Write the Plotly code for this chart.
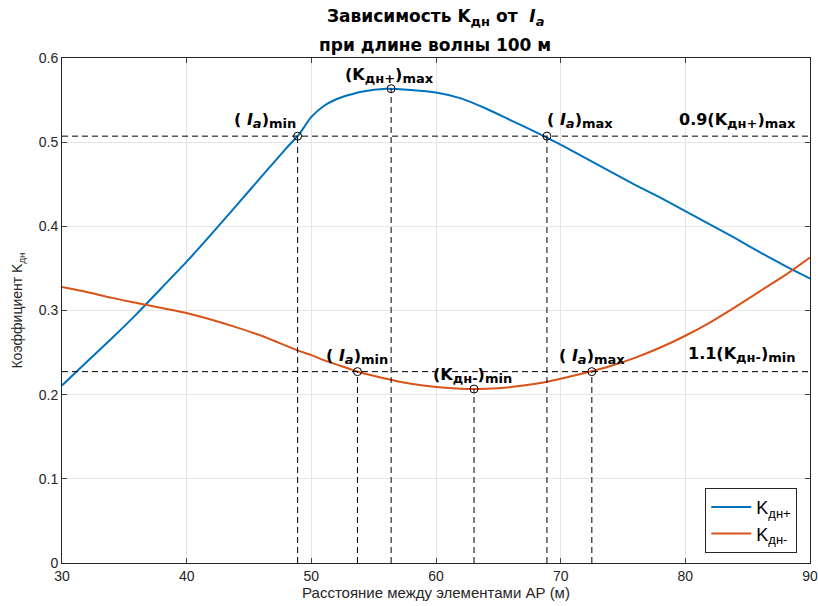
import plotly.graph_objects as go

# ---- data ----
x_vals = [30, 32, 34, 36, 38, 40, 42, 44, 46, 48, 49, 50, 51, 52, 53, 54, 56, 58, 60,
          62, 64, 66, 68, 70, 72, 74, 76, 78, 80, 82, 84, 86, 88, 90]
k_plus = [0.211, 0.239, 0.267, 0.296, 0.327, 0.358, 0.391, 0.425, 0.459, 0.493, 0.509,
          0.530, 0.543, 0.551, 0.556, 0.560, 0.5635, 0.562, 0.559, 0.552, 0.540, 0.526,
          0.512, 0.497, 0.481, 0.465, 0.449, 0.434, 0.418, 0.402, 0.386, 0.369, 0.353, 0.338]
k_minus = [0.328, 0.322, 0.315, 0.309, 0.303, 0.297, 0.289, 0.280, 0.270, 0.258, 0.252,
           0.247, 0.241, 0.236, 0.231, 0.226, 0.219, 0.213, 0.209, 0.207, 0.207, 0.209,
           0.213, 0.219, 0.226, 0.234, 0.244, 0.256, 0.270, 0.286, 0.304, 0.323, 0.342, 0.363]

# characteristic points
plus_max_x, plus_max_y = 56.4, 0.5635
plus_ia_min_x, plus_ia_max_x = 48.9, 68.9
plus_level = 0.9 * plus_max_y
minus_min_x, minus_min_y = 63.05, 0.2067
minus_ia_min_x, minus_ia_max_x = 53.7, 72.5
minus_level = 1.1 * minus_min_y

x_ticks = [30, 40, 50, 60, 70, 80, 90]
y_ticks = [0, 0.1, 0.2, 0.3, 0.4, 0.5, 0.6]


def sub(t):
    return "<sub><span style='font-size:13px'>" + t + "</span></sub>"


title_line1 = "<b>Зависимость K" + sub("дн") + " от  <i>I</i>" + sub("<i>a</i>") + "</b>"
title_line2 = "<b>при длине волны 100 м</b>"

BLUE = "#0072BD"
ORANGE = "#D95319"
AX = "#262626"
FONT = "Liberation Sans, Arial, sans-serif"
BFONT = "DejaVu Sans, Liberation Sans, Arial, sans-serif"

fig = go.Figure()
fig.add_trace(go.Scatter(x=x_vals, y=k_plus, mode="lines", name="K" + sub("дн+"),
                         line=dict(color=BLUE, width=2, shape="spline", smoothing=0.6)))
fig.add_trace(go.Scatter(x=x_vals, y=k_minus, mode="lines", name="K" + sub("дн-"),
                         line=dict(color=ORANGE, width=2, shape="spline", smoothing=0.6)))

# dashed guide lines
dash_line = dict(color="black", width=1, dash="6px,4px")
for lvl in (plus_level, minus_level):
    fig.add_shape(type="line", x0=30, x1=90, y0=lvl, y1=lvl, xref="x", yref="y", line=dash_line)
for vx, vy in [(plus_ia_min_x, plus_level), (plus_max_x, plus_max_y), (plus_ia_max_x, plus_level),
               (minus_ia_min_x, minus_level), (minus_min_x, minus_min_y), (minus_ia_max_x, minus_level)]:
    fig.add_shape(type="line", x0=vx, x1=vx, y0=0, y1=vy, xref="x", yref="y", line=dash_line)

mx = [plus_ia_min_x, plus_max_x, plus_ia_max_x, minus_ia_min_x, minus_min_x, minus_ia_max_x]
my = [plus_level, plus_max_y, plus_level, minus_level, minus_min_y, minus_level]
fig.add_trace(go.Scatter(x=mx, y=my, mode="markers", showlegend=False,
                         marker=dict(symbol="circle-open", size=8, color="black",
                                     line=dict(width=1, color="black"))))

ia_min = "<b>( <i>I</i>" + sub("<i>a</i>") + ")" + sub("min") + "</b>"
ia_max = "<b>( <i>I</i>" + sub("<i>a</i>") + ")" + sub("max") + "</b>"
labels = [
    (plus_ia_min_x, plus_level, ia_min, "right", 0, 3),
    (plus_max_x, plus_max_y, "<b>(K" + sub("дн+") + ")" + sub("max") + "</b>", "center", -2, 1),
    (plus_ia_max_x, plus_level, ia_max, "left", -2, 3),
    (89, plus_level, "<b>0.9(K" + sub("дн+") + ")" + sub("max") + "</b>", "right", 0, 3),
    (minus_ia_min_x, minus_level, ia_min, "center", 0, 3),
    (minus_min_x, minus_min_y, "<b>(K" + sub("дн-") + ")" + sub("min") + "</b>", "center", -2, 1),
    (minus_ia_max_x, minus_level, ia_max, "center", 0, 3),
    (89, minus_level, "<b>1.1(K" + sub("дн-") + ")" + sub("min") + "</b>", "right", 0, 5),
]
for lx, ly, txt, xa, xs, ys in labels:
    fig.add_annotation(x=lx, y=ly, text=txt, showarrow=False, xanchor=xa, yanchor="bottom",
                       xshift=xs, yshift=ys, font=dict(family=BFONT, size=16, color="black"))

# title as two centred lines above the axes
for ty, ttxt in [(1.081, title_line1), (1.026, title_line2)]:
    fig.add_annotation(x=0.4993, y=ty, xref="paper", yref="paper", text=ttxt, showarrow=False,
                       xanchor="center", yanchor="middle",
                       font=dict(family=BFONT, size=17, color="black"))

fig.update_layout(
    width=818, height=606,
    margin=dict(l=62, r=8, t=58, b=43, autoexpand=False),
    paper_bgcolor="white", plot_bgcolor="white",
    font=dict(family=FONT, color=AX, size=13),
    legend=dict(x=0.983, y=0.02, xanchor="right", yanchor="bottom",
                bordercolor=AX, borderwidth=1, bgcolor="white",
                font=dict(family=FONT, size=18, color="black"),
                itemwidth=40, tracegroupgap=2),
    xaxis=dict(range=[30, 90], tickvals=x_ticks, ticks="inside", ticklen=5,
               showline=True, linecolor=AX, linewidth=1, mirror="ticks",
               showgrid=True, gridcolor="#e6e6e6", zeroline=False, automargin=False,
               tickfont=dict(size=14, color=AX),
               title=dict(text="Расстояние между элементами АР (м)", standoff=4,
                          font=dict(size=15, color=AX))),
    yaxis=dict(range=[0, 0.6], tickvals=y_ticks, ticks="inside", ticklen=5,
               showline=True, linecolor=AX, linewidth=1, mirror="ticks",
               showgrid=True, gridcolor="#e6e6e6", zeroline=False, automargin=False,
               tickfont=dict(size=14, color=AX),
               title=dict(text="Коэффициент K<sub>дн</sub>", standoff=12,
                          font=dict(size=14, color=AX))),
)

fig.write_html("out.html")
